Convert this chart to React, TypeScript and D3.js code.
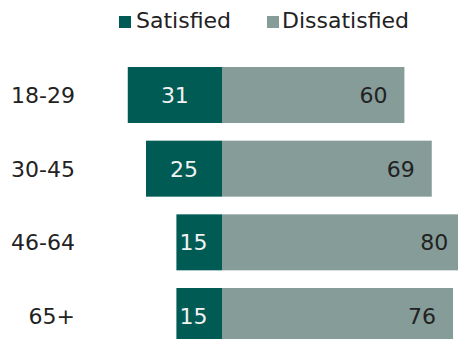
import React from "react";
import * as d3 from "d3";

const categories = ["18-29", "30-45", "46-64", "65+"];
const satisfied = [31, 25, 15, 15];
const dissatisfied = [60, 69, 80, 76];
const seriesNames = ["Satisfied", "Dissatisfied"];

const W = 458;
const H = 339;
const SAT_COLOR = "#005b55";
const DIS_COLOR = "#869c99";
const FONT = "'DejaVu Sans', Verdana, sans-serif";
const FS = 22;

export default function App() {
  const x = d3.scaleLinear().domain([-40, 80]).range([100.4, 465.2]);
  const y = d3
    .scaleBand<string>()
    .domain(categories)
    .range([67, 344])
    .paddingInner(0.24)
    .paddingOuter(0);
  const bw = y.bandwidth();

  return (
    <svg
      width={W}
      height={H}
      style={{ position: "absolute", left: 0, top: 0, background: "#fff" }}
      fontFamily={FONT}
    >
      {/* legend */}
      <g>
        <rect x={119} y={16} width={12} height={12} fill={SAT_COLOR} />
        <text x={136} y={28} fontSize={FS} fill="#222">
          {seriesNames[0]}
        </text>
        <rect x={267} y={16} width={12} height={12} fill={DIS_COLOR} />
        <text x={282} y={28} fontSize={FS} fill="#222">
          {seriesNames[1]}
        </text>
      </g>
      {categories.map((c, i) => {
        const y0 = y(c)!;
        const cy = y0 + bw / 2;
        const sx0 = x(-satisfied[i]);
        const sx1 = x(0);
        const dx1 = x(dissatisfied[i]);
        const narrow = sx1 - sx0 < 55;
        return (
          <g key={c}>
            <text
              x={75}
              y={cy}
              dy="0.36em"
              textAnchor="end"
              fontSize={FS}
              fill="#222"
            >
              {c}
            </text>
            <rect x={sx0} y={y0} width={sx1 - sx0} height={bw} fill={SAT_COLOR} />
            <rect x={sx1} y={y0} width={dx1 - sx1} height={bw} fill={DIS_COLOR} />
            <text
              x={narrow ? sx0 + 3 : (sx0 + sx1) / 2}
              y={cy}
              dy="0.36em"
              textAnchor={narrow ? "start" : "middle"}
              fontSize={FS}
              fill="#f2f2f2"
            >
              {satisfied[i]}
            </text>
            <text
              x={dx1 - 17}
              y={cy}
              dy="0.36em"
              textAnchor="end"
              fontSize={FS}
              fill="#222"
            >
              {dissatisfied[i]}
            </text>
          </g>
        );
      })}
    </svg>
  );
}
